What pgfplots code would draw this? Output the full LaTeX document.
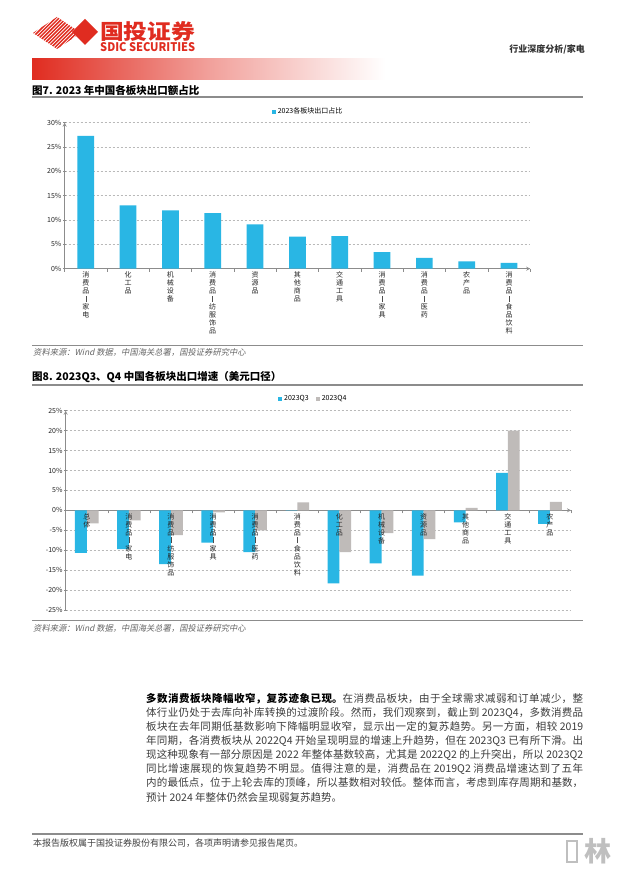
\documentclass[border=0pt]{standalone}
\usepackage{pgfplots}
\pgfplotsset{compat=1.18}
\usepackage{fontspec}
\setmainfont{Noto Sans CJK SC}
\newfontfamily\slcjk[FakeSlant=0.2]{Noto Sans CJK SC}
\definecolor{cblue}{RGB}{41,182,228}
\definecolor{cgray}{RGB}{191,187,185}
\definecolor{logored}{RGB}{224,44,32}
\definecolor{bodytext}{RGB}{60,60,60}
\definecolor{rulegray}{RGB}{140,140,140}
\newcommand{\vb}{\textcolor{black!70}{\rule{0.5pt}{6pt}}}
\newcommand{\pline}[1]{\parbox{437pt}{\parindent=0pt\parfillskip=0pt\XeTeXlinebreaklocale "zh"\XeTeXlinebreakskip=0pt plus 2pt minus 0.6pt\relax #1}}

\pgfplotstableread{
x v
0 27.3
1 13.0
2 12.0
3 11.4
4 9.1
5 6.6
6 6.7
7 3.4
8 2.2
9 1.5
10 1.2
}\shares

\pgfplotstableread{
x q3 q4
0 -10.7 -3.3
1 -9.7 -2.5
2 -13.5 -6.2
3 -8.1 -0.5
4 -10.5 -5.0
5 -0.1 2.0
6 -18.3 -10.5
7 -13.3 -5.7
8 -16.4 -7.2
9 -3.0 0.6
10 9.4 20.0
11 -3.4 2.1
}\growth

\pgfplotsset{
  mybase/.style={
    scale only axis, enlargelimits=false,
    /pgf/number format/assume math mode=true,
    axis line style={-, draw=rulegray, line width=0.8pt},
    ymajorgrids,
    major grid style={dash pattern=on 2pt off 2pt, draw=gray!55, line width=0.6pt},
    tick align=outside, major tick length=3pt,
    tick style={draw=rulegray, line width=0.6pt},
    yticklabel={\pgfmathprintnumber{\tick}\%},
    yticklabel style={font=\fontsize{7}{7}\selectfont, text=black!85, inner sep=1.5pt},
    xticklabel style={align=center, font=\fontsize{7}{8}\selectfont, text=black!85, inner sep=1pt},
    legend style={draw=none, fill=none, font=\fontsize{7}{7}\selectfont, inner sep=0pt,
      legend columns=-1, /tikz/every even column/.append style={column sep=5pt}},
  },
  sqlegend/.style={legend image code/.code={\fill[##1] (0pt,-2pt) rectangle (4pt,2pt);}},
}

\begin{document}
\begin{tikzpicture}[x=1pt,y=1pt]
\useasboundingbox (0,0) rectangle (616,874);
\fill[white] (0,0) rectangle (616,874);

\begin{scope}[shift={(0,874)}, yscale=-1]
  % logo stripes
  \begin{scope}
    \clip (33,33) -- (57,17) -- (81,33) -- (57,49) -- cycle;
    \foreach \a in {0,3.6,...,90}
      \draw[logored, line width=1.5pt] (\a,52) -- (\a+38,14);
  \end{scope}
  \fill[logored] (72,32) -- (85,19) -- (98,32) -- (85,45) -- cycle;
  \node[anchor=west, inner sep=0pt, text=logored] at (100,32)
    {\resizebox*{95pt}{20pt}{\bfseries 国投证券}};
  \node[anchor=west, inner sep=0pt, text=logored] at (100,47.5)
    {\resizebox{95pt}{9pt}{\bfseries SDIC SECURITIES}};
  \node[anchor=east, inner sep=0pt, text=black!80] at (585,49)
    {\fontsize{9}{9}\selectfont\bfseries 行业深度分析/家电};
  % gradient band
  \shade[left color=logored, right color=white, middle color=logored!45] (32,59) rectangle (385,80);
  % figure 7 title
  \node[anchor=west, inner sep=0pt] at (32,90)
    {\fontsize{10.5}{10.5}\selectfont\bfseries 图7. 2023 年中国各板块出口额占比};
  \draw[rulegray, line width=1.2pt] (32,97) -- (583,97);
  % source 1
  \draw[rulegray, line width=1pt] (32,346) -- (583,346);
  \node[anchor=west, inner sep=0pt, text=black!60] at (33,352.5)
    {\slcjk\fontsize{8.3}{8.3}\selectfont 资料来源：Wind 数据，中国海关总署，国投证券研究中心};
  % figure 8 title
  \node[anchor=west, inner sep=0pt] at (32,377)
    {\fontsize{10.5}{10.5}\selectfont\bfseries 图8. 2023Q3、Q4 中国各板块出口增速（美元口径）};
  \draw[rulegray, line width=1.2pt] (32,385) -- (583,385);
  % source 2
  \draw[rulegray, line width=1pt] (32,621) -- (583,621);
  \node[anchor=west, inner sep=0pt, text=black!60] at (33,628)
    {\slcjk\fontsize{8.3}{8.3}\selectfont 资料来源：Wind 数据，中国海关总署，国投证券研究中心};
  % paragraph
  \begin{scope}[every node/.style={anchor=west, inner sep=0pt, text=bodytext, font=\fontsize{10.5}{10.5}\selectfont}]
    \node at (146,699) {\pline{{\color{black}\bfseries 多数消费板块降幅收窄，复苏迹象已现。}在消费品板块，由于全球需求减弱和订单减少，整}};
    \node at (146,713) {\pline{体行业仍处于去库向补库转换的过渡阶段。然而，我们观察到，截止到 2023Q4，多数消费品}};
    \node at (146,727) {\pline{板块在去年同期低基数影响下降幅明显收窄，显示出一定的复苏趋势。另一方面，相较 2019}};
    \node at (146,741) {\pline{年同期，各消费板块从 2022Q4 开始呈现明显的增速上升趋势，但在 2023Q3 已有所下滑。出}};
    \node at (146,755) {\pline{现这种现象有一部分原因是 2022 年整体基数较高，尤其是 2022Q2 的上升突出，所以 2023Q2}};
    \node at (146,769) {\pline{同比增速展现的恢复趋势不明显。值得注意的是，消费品在 2019Q2 消费品增速达到了五年}};
    \node at (146,783) {\pline{内的最低点，位于上轮去库的顶峰，所以基数相对较低。整体而言，考虑到库存周期和基数，}};
    \node at (146,797) {预计 2024 年整体仍然会呈现弱复苏趋势。};
  \end{scope}
  % footer
  \draw[rulegray, line width=1.2pt] (32,834) -- (583,834);
  \node[anchor=west, inner sep=0pt, text=black!75] at (33,843)
    {\fontsize{9}{9}\selectfont 本报告版权属于国投证券股份有限公司，各项声明请参见报告尾页。};
  \draw[gray!50, line width=1.4pt] (567,841) rectangle (577,862);
  \node[inner sep=0pt, text=gray!50] at (598,851) {\fontsize{27}{27}\selectfont\bfseries 林};
\end{scope}

% ---------- Chart 1 ----------
\begin{axis}[mybase,
  at={(64.6pt,605.3pt)}, anchor=south west,
  width=465.6pt, height=146pt,
  xmin=-0.5, xmax=10.5, ymin=0, ymax=30,
  axis x line=bottom, axis y line=left,
  ytick={0,5,...,30},
  xtick={-0.5,0.5,...,10.5}, xticklabels={},
  extra x ticks={0,1,...,10},
  extra x tick style={major tick length=0pt},
  xticklabel style={yshift=-2pt},
  extra x tick labels={{消\\费\\品\\\vb\\家\\电},{化\\工\\品},{机\\械\\设\\备},{消\\费\\品\\\vb\\纺\\服\\饰\\品},{资\\源\\品},{其\\他\\商\\品},{交\\通\\工\\具},{消\\费\\品\\\vb\\家\\具},{消\\费\\品\\\vb\\医\\药},{农\\产\\品},{消\\费\\品\\\vb\\食\\品\\饮\\料}},
  ybar, bar width=16.7pt, sqlegend,
  legend style={at={(0.523,1.075)}, anchor=center},
]
\addplot[fill=cblue, draw=none] table[x=x, y=v] {\shares};
\addlegendentry{2023各板块出口占比}
\end{axis}

% ---------- Chart 2 (bars) ----------
\begin{axis}[mybase,
  at={(65.7pt,264pt)}, anchor=south west,
  width=505.3pt, height=199.3pt,
  xmin=-0.5, xmax=11.5, ymin=-25, ymax=25,
  axis x line=middle, axis y line=left,
  hide obscured y ticks=false, hide obscured x ticks=false,
  ytick={-25,-20,...,25},
  xtick={-0.5,0.5,...,11.5}, xticklabels={},
  ybar=0pt, bar width=11.8pt, sqlegend,
  legend style={at={(0.49,1.059)}, anchor=center},
]
\addplot[fill=cblue, draw=none] table[x=x, y=q3] {\growth};
\addlegendentry{2023Q3}
\addplot[fill=cgray, draw=none] table[x=x, y=q4] {\growth};
\addlegendentry{2023Q4}
\end{axis}

% ---------- Chart 2 (category labels on top of bars) ----------
\begin{axis}[mybase,
  at={(65.7pt,264pt)}, anchor=south west,
  width=505.3pt, height=199.3pt,
  xmin=-0.5, xmax=11.5, ymin=-25, ymax=25,
  axis x line=middle, hide y axis, ymajorgrids=false,
  x axis line style={draw=none},
  hide obscured x ticks=false,
  xtick=\empty,
  extra x ticks={0,1,...,11},
  extra x tick style={major tick length=0pt},
  xticklabel style={anchor=north, yshift=-2pt},
  extra x tick labels={{总\\体},{消\\费\\品\\\vb\\家\\电},{消\\费\\品\\\vb\\纺\\服\\饰\\品},{消\\费\\品\\\vb\\家\\具},{消\\费\\品\\\vb\\医\\药},{消\\费\\品\\\vb\\食\\品\\饮\\料},{化\\工\\品},{机\\械\\设\\备},{资\\源\\品},{其\\他\\商\\品},{交\\通\\工\\具},{农\\产\\品}},
]
\end{axis}
\end{tikzpicture}
\end{document}
